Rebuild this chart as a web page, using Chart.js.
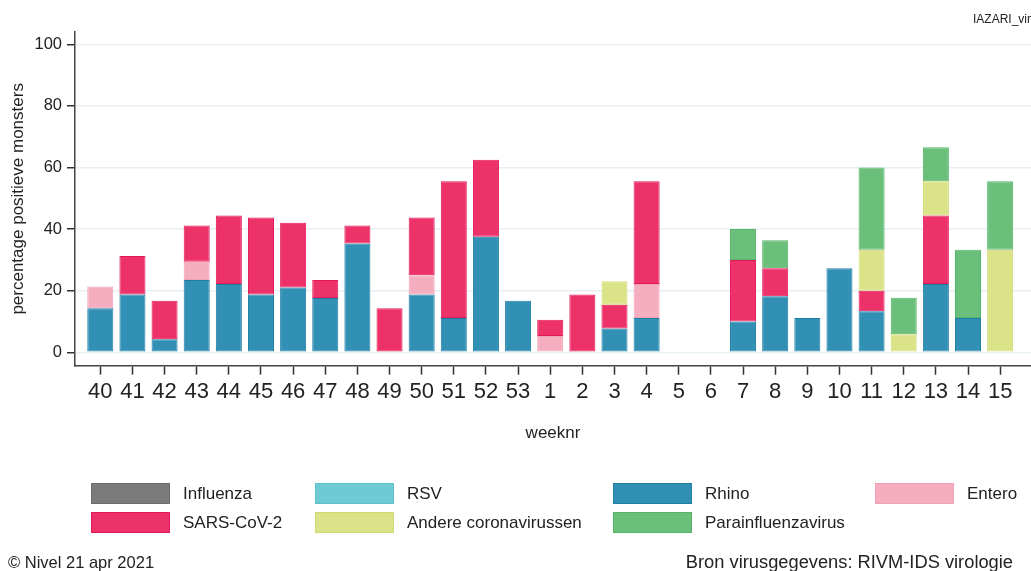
<!DOCTYPE html>
<html>
<head>
<meta charset="utf-8">
<script src="https://cdn.jsdelivr.net/npm/chart.js@4/dist/chart.umd.min.js"></script>
<style>
  body { margin: 0; background: #fff; }
  #wrap { width: 1031px; height: 571px; position: relative; }
</style>
</head>
<body>
<div id="wrap"><canvas id="virChart"></canvas></div>
<script>
// weken seizoen 2020/2021
const weken = ['40', '41', '42', '43', '44', '45', '46', '47', '48', '49', '50', '51', '52', '53',
    '1', '2', '3', '4', '5', '6', '7', '8', '9', '10', '11', '12', '13', '14', '15'];

// percentage positieve monsters per virus
const influenza = [0, 0, 0, 0, 0, 0, 0, 0, 0, 0, 0, 0, 0, 0, 0, 0, 0, 0, 0, 0, 0, 0, 0, 0, 0, 0, 0, 0, 0];
const rsv       = [0, 0, 0, 0, 0, 0, 0, 0, 0, 0, 0, 0, 0, 0, 0, 0, 0, 0, 0, 0, 0, 0, 0, 0, 0, 0, 0, 0, 0];
const rhino     = [14.3, 18.75, 4.2, 23.5, 22.2, 18.75, 21.05, 17.6, 35.3, 0, 18.75, 11.1, 37.5, 16.7,
    0, 0, 7.7, 11.1, 0, 0, 10, 18.2, 11.1, 27.3, 13.3, 0, 22.2, 11.1, 0];
const entero    = [7.1, 0, 0, 5.9, 0, 0, 0, 0, 0, 0, 6.25, 0, 0, 0,
    5.3, 0, 0, 11.1, 0, 0, 0, 0, 0, 0, 0, 0, 0, 0, 0];
const sarsCov2  = [0, 12.5, 12.5, 11.8, 22.2, 25, 21.05, 5.9, 5.9, 14.3, 18.75, 44.4, 25, 0,
    5.3, 18.75, 7.7, 33.3, 0, 0, 20, 9.1, 0, 0, 6.7, 0, 22.2, 0, 0];
const andereCorona = [0, 0, 0, 0, 0, 0, 0, 0, 0, 0, 0, 0, 0, 0,
    0, 0, 7.7, 0, 0, 0, 0, 0, 0, 0, 13.3, 5.9, 11.1, 0, 33.3];
const parainfluenza = [0, 0, 0, 0, 0, 0, 0, 0, 0, 0, 0, 0, 0, 0,
    0, 0, 0, 0, 0, 0, 10, 9.1, 0, 0, 26.7, 11.8, 11.1, 22.2, 22.2];

const yTicks = [0, 20, 40, 60, 80, 100];

const FONT = '"Liberation Sans", Arial, sans-serif';
const TXT = '#222';

function serie(label, data, fill, rand) {
    return {
        label: label,
        data: data.map((v, i) => ({ x: i, y: v })),
        backgroundColor: fill,
        borderColor: rand,
        borderWidth: c => (c.raw && c.raw.y ? 1 : 0),
        borderSkipped: false,
        barPercentage: 0.81,
        categoryPercentage: 1
    };
}

// legenda, asbijschrift en bronvermelding
const extraTekst = {
    id: 'extraTekst',
    afterDraw(chart) {
        const ctx = chart.ctx;
        ctx.save();
        const kolommen = [91, 315, 613, 875];
        const rijen = [483, 512];
        chart.data.datasets.forEach((ds, i) => {
            const x = kolommen[i % 4];
            const y = rijen[Math.floor(i / 4)];
            ctx.fillStyle = ds.backgroundColor;
            ctx.fillRect(x, y, 79, 21);
            ctx.strokeStyle = ds.borderColor;
            ctx.lineWidth = 1;
            ctx.strokeRect(x + 0.5, y + 0.5, 78, 20);
            ctx.fillStyle = TXT;
            ctx.font = '17px ' + FONT;
            ctx.textAlign = 'left';
            ctx.textBaseline = 'middle';
            ctx.fillText(ds.label, x + 92, y + 11);
        });

        ctx.textBaseline = 'middle';
        ctx.textAlign = 'left';
        ctx.font = '16.5px ' + FONT;
        ctx.fillText('\u00A9 Nivel 21 apr 2021', 8, 563);
        ctx.textAlign = 'right';
        ctx.font = '18.3px ' + FONT;
        ctx.fillText('Bron virusgegevens: RIVM-IDS virologie', 1013, 563);

        ctx.font = '12px ' + FONT;
        ctx.fillText('IAZARI_vir', 1031, 20);
        ctx.restore();
    }
};

const chart = new Chart(document.getElementById('virChart'), {
    type: 'bar',
    data: {
        datasets: [
            serie('Influenza', influenza, '#7b7b7b', '#6c6c6c'),
            serie('RSV', rsv, '#6ecbd3', '#5cc2cb'),
            serie('Rhino', rhino, '#3290b5', '#1f7fa7'),
            serie('Entero', entero, '#f5aec0', '#f2a1b5'),
            serie('SARS-CoV-2', sarsCov2, '#ec3268', '#e3185a'),
            serie('Andere coronavirussen', andereCorona, '#dbe389', '#d1da70'),
            serie('Parainfluenzavirus', parainfluenza, '#6abf7a', '#56b568')
        ]
    },
    options: {
        responsive: true,
        maintainAspectRatio: false,
        animation: false,
        plugins: {
            legend: { display: false },
            tooltip: { enabled: false }
        },
        layout: { padding: { top: 32, right: 0, bottom: 126, left: 0 } },
        scales: {
            x: {
                type: 'linear',
                stacked: true,
                offset: false,
                min: -0.787,
                max: 28.96,
                afterFit: s => { s.height = 79.3; },
                grid: {
                    display: true,
                    offset: false,
                    drawOnChartArea: false,
                    tickLength: 9,
                    tickColor: '#333',
                    tickWidth: 1.5
                },
                border: { color: '#444', width: 1.5 },
                ticks: {
                    stepSize: 1,
                    maxTicksLimit: 100,
                    includeBounds: false,
                    autoSkip: false,
                    maxRotation: 0,
                    padding: 4,
                    color: TXT,
                    font: { family: FONT, size: 22 },
                    callback: v => (Number.isInteger(v) ? weken[v] : '')
                },
                title: {
                    display: true,
                    text: 'weeknr',
                    color: TXT,
                    font: { family: FONT, size: 17 },
                    padding: { top: 0, bottom: 1 }
                }
            },
            y: {
                stacked: true,
                min: -4.35,
                max: 104,
                afterFit: s => { s.width = 75; },
                afterBuildTicks: s => { s.ticks = yTicks.map(v => ({ value: v })); },
                grid: {
                    color: '#e9f0f4',
                    lineWidth: 1.5,
                    tickLength: 8,
                    tickColor: '#333',
                    tickWidth: 1.5
                },
                border: { color: '#444', width: 1.5 },
                ticks: {
                    padding: 5,
                    color: TXT,
                    font: { family: FONT, size: 16.5 }
                },
                title: {
                    display: true,
                    text: 'percentage positieve monsters',
                    color: TXT,
                    font: { family: FONT, size: 17 },
                    padding: { top: 8, bottom: 0 }
                }
            }
        }
    },
    plugins: [extraTekst]
});
</script>
</body>
</html>
